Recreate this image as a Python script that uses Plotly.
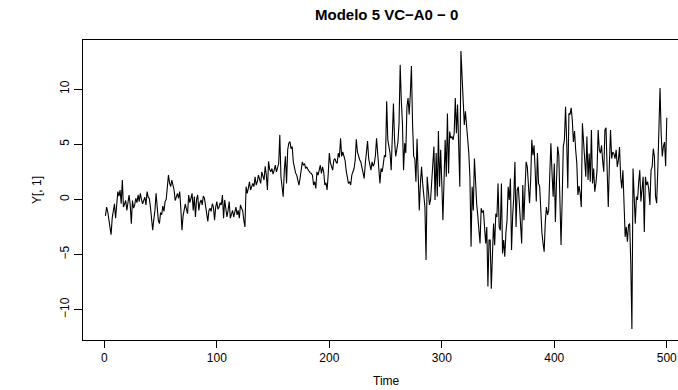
import plotly.graph_objects as go

# Time index 1..500
time_index = list(range(1, 501))

# Series values Y[,1] (blocks of 10)
y_values = [
    -1.5, -0.7, -1.1, -2.0, -2.4, -3.2, -1.7, -0.9, -0.4, -1.7,
    0.0, 0.7, 0.3, 0.85, -0.4, 1.75, -0.7, -0.3, -0.1, -1.0,
    -0.2, 0.4, -0.5, -2.2, -0.1, -0.8, -0.5, 0.1, -0.3, 0.4,
    -0.2, 0.55, 0.0, -0.4, -0.1, 0.2, -0.5, 0.7, 0.2, 0.1,
    -0.7, -1.5, -2.8, -1.8, -1.0, 0.55, -0.6, -1.9, -2.2, -1.2,
    -1.4, -0.6, -1.1, -0.2, 0.0, 1.0, 2.2, 1.5, 1.15, 1.75,
    1.2, 0.85, -0.1, 0.2, 0.55, 0.1, 0.7, -0.8, -2.8, -1.5,
    -0.7, -0.4, -0.9, -1.3, 0.4, -0.3, 0.1, 0.55, -1.0, 0.25,
    -1.6, 0.0, 0.4, -1.0, -0.3, -0.05, -0.5, 0.3, 0.1, -0.7,
    -1.2, -2.0, -1.0, -0.8, -1.1, -0.4, -0.7, -1.9, -0.7, -0.2,
    -0.9, -0.7, -0.3, -0.5, 0.4, -1.7, -0.05, -0.9, -1.6, -1.0,
    -0.2, -1.7, -1.2, -1.0, -1.6, -1.1, -0.7, -1.4, -1.0, -1.7,
    -0.5, -0.8, -1.0, -1.9, -2.5, 1.15, 0.55, 1.0, 1.6, 0.85,
    1.2, 1.45, 1.15, 2.05, 1.3, 1.6, 2.2, 1.8, 1.45, 2.5,
    2.0, 1.75, 3.0, 2.2, 0.85, 3.45, 2.7, 2.5, 2.8, 2.3,
    2.65, 3.1, 2.5, 2.8, 3.25, 5.85, 2.05, 1.15, 0.25, 2.65,
    3.9, 1.45, 4.5, 5.1, 5.25, 4.6, 4.8, 3.4, 2.65, 2.4,
    2.2, 1.75, 1.3, 1.9, 2.8, 3.4, 3.1, 3.25, 2.8, 2.95,
    2.7, 2.5, 2.4, 2.35, 2.2, 1.3, 1.6, 1.0, 2.5, 2.2,
    2.65, 3.1, 2.35, 2.95, 2.5, 1.3, 1.5, 0.85, 2.2, 4.2,
    3.3, 2.95, 2.65, 3.55, 3.7, 3.4, 3.25, 4.2, 3.8, 5.55,
    3.9, 4.3, 4.0, 3.55, 2.6, 1.9, 1.45, 1.6, 1.3, 2.2,
    2.5, 2.8, 3.55, 5.45, 4.3, 3.85, 3.6, 3.4, 2.95, 2.5,
    1.9, 3.25, 4.2, 5.3, 3.7, 3.25, 2.65, 3.4, 3.0, 3.25,
    4.0, 5.55, 3.85, 2.5, 1.45, 2.8, 2.5, 3.2, 4.0, 3.85,
    8.9, 5.4, 4.6, 4.2, 2.65, 5.6, 8.7, 5.4, 3.9, 4.5,
    5.2, 6.9, 12.2, 9.0, 6.9, 2.65, 5.1, 4.2, 8.4, 9.2,
    7.7, 9.5, 12.1, 6.9, 3.9, 3.7, 1.6, 5.5, 1.45, -1.0,
    1.5, 2.95, 1.45, 0.25, -0.7, -5.5, 2.05, 0.85, -0.5, -0.05,
    1.8, 3.9, 4.8, -0.05, 4.2, 0.25, 6.2, 1.15, 4.5, 1.45,
    -1.9, 1.75, 5.4, 2.05, 7.8, 2.35, 6.15, 5.55, 5.7, 5.4,
    6.0, 9.2, 6.0, 8.6, 5.4, 1.15, 13.45, 11.2, 8.0, 6.75,
    8.0, 6.9, 5.7, 4.2, 2.05, -4.3, 1.15, -1.0, 3.7, 1.0,
    -0.4, -1.5, -3.1, -4.0, -0.8, -1.2, -1.0, -2.5, -4.0, -2.5,
    -7.9, -3.7, -3.7, -8.1, -4.0, -2.2, -4.15, -1.3, -1.6, 1.45,
    -2.5, -2.8, 1.45, -4.9, -3.7, -5.2, -3.0, -1.9, 1.15, -0.05,
    1.9, -4.6, -1.5, 0.25, 3.4, -2.5, 0.85, 1.15, -0.5, -2.5,
    -4.0, 1.3, -1.9, 1.0, 3.4, 2.95, 1.45, -0.35, 1.75, 5.4,
    4.0, 4.9, 2.65, -0.2, 4.2, 1.45, 1.15, -1.6, -3.0, -4.0,
    -4.75, -2.05, -0.7, -1.4, -1.0, 2.35, 5.1, 2.35, 0.25, 3.25,
    -2.05, 1.75, 4.8, 4.0, -0.05, -4.15, -0.05, 4.8, 5.4, 8.4,
    5.4, 1.0, 7.8, 7.7, 8.3, 7.2, 5.2, 6.2, 4.5, 3.3,
    0.4, 1.2, 0.55, -0.7, 6.9, 5.1, 3.5, 2.05, 5.7, 1.75,
    4.15, 1.6, 6.3, 1.45, 2.8, 0.7, 1.45, 2.65, 6.3, 4.5,
    4.2, 4.9, 3.5, 2.5, 6.3, 6.5, 2.65, -0.7, 3.25, 6.3,
    3.7, 4.3, 4.15, 3.7, 4.5, 2.95, 3.55, 4.75, 2.0, 1.0,
    2.65, -0.95, -3.4, -2.5, -3.85, -2.35, -2.2, -5.8, -11.75, 2.8,
    0.25, -2.2, 0.25, -0.05, 1.5, 2.65, -0.2, 1.15, 2.05, -2.95,
    2.05, 1.3, 1.6, 0.9, -0.5, 2.65, 2.95, 4.6, 3.9, 0.25,
    -0.35, 2.65, 5.7, 10.1, 6.0, 3.9, 4.8, 5.2, 3.0, 7.4,
]

x_ticks = [0, 100, 200, 300, 400, 500]
y_ticks = [-10, -5, 0, 5, 10]
title_text = "Modelo 5 VC\u2212A0 \u2212 0"
x_label = "Time"
y_label = "Y[, 1]"

assert len(y_values) == len(time_index)

FONT = "Liberation Sans, Arial, Helvetica, sans-serif"

# R-style 4% axis extension
ymin, ymax = min(y_values), max(y_values)
yr = ymax - ymin
xr = time_index[-1] - time_index[0]

fig = go.Figure()
fig.add_trace(go.Scatter(
    x=time_index, y=y_values, mode="lines",
    line=dict(color="black", width=1.1),
    hoverinfo="skip", showlegend=False,
))

W, H = 678, 390
ML, MR, MT, MB = 83, 0, 40, 50

fig.update_layout(
    width=W, height=H,
    margin=dict(l=ML, r=MR, t=MT, b=MB),
    paper_bgcolor="white", plot_bgcolor="white",
    font=dict(family=FONT, size=12, color="black"),
    showlegend=False,
)

x_lo = time_index[0] - 0.04 * xr
px_per_unit = 1.1249
x_hi = x_lo + (W - ML - MR) / px_per_unit

fig.update_xaxes(
    range=[x_lo, x_hi],
    tickmode="array", tickvals=x_ticks, ticktext=[str(v) for v in x_ticks],
    ticks="outside", ticklen=7, tickwidth=1, tickcolor="black",
    showline=True, linecolor="black", linewidth=1, mirror=True,
    showgrid=False, zeroline=False,
    tickfont=dict(family=FONT, size=12, color="black"),
)
fig.update_yaxes(
    range=[ymin - 0.04 * yr, ymax + 0.04 * yr],
    tickmode="array", tickvals=y_ticks,
    ticktext=[("\u2212" + str(-v)) if v < 0 else str(v) for v in y_ticks],
    ticks="outside", ticklen=8, tickwidth=1, tickcolor="black",
    tickangle=-90,
    showline=True, linecolor="black", linewidth=1, mirror=False,
    showgrid=False, zeroline=False,
    tickfont=dict(family=FONT, size=12, color="black"),
)

plot_w = W - ML - MR
plot_h = H - MT - MB
cx = (386 - ML) / plot_w

fig.add_annotation(text="<b>" + title_text + "</b>", xref="paper", yref="paper",
                   x=cx, y=(H - MB - 14) / plot_h, xanchor="center", yanchor="middle",
                   showarrow=False, font=dict(family=FONT, size=15, color="black"))
fig.add_annotation(text=x_label, xref="paper", yref="paper",
                   x=cx, y=(H - MB - 381) / plot_h, xanchor="center", yanchor="middle",
                   showarrow=False, font=dict(family=FONT, size=12, color="black"))
fig.add_annotation(text=y_label, xref="paper", yref="paper",
                   x=(37 - ML) / plot_w, y=0.5, xanchor="center", yanchor="middle",
                   textangle=-90, showarrow=False,
                   font=dict(family=FONT, size=12, color="black"))

fig.write_html("out.html")
